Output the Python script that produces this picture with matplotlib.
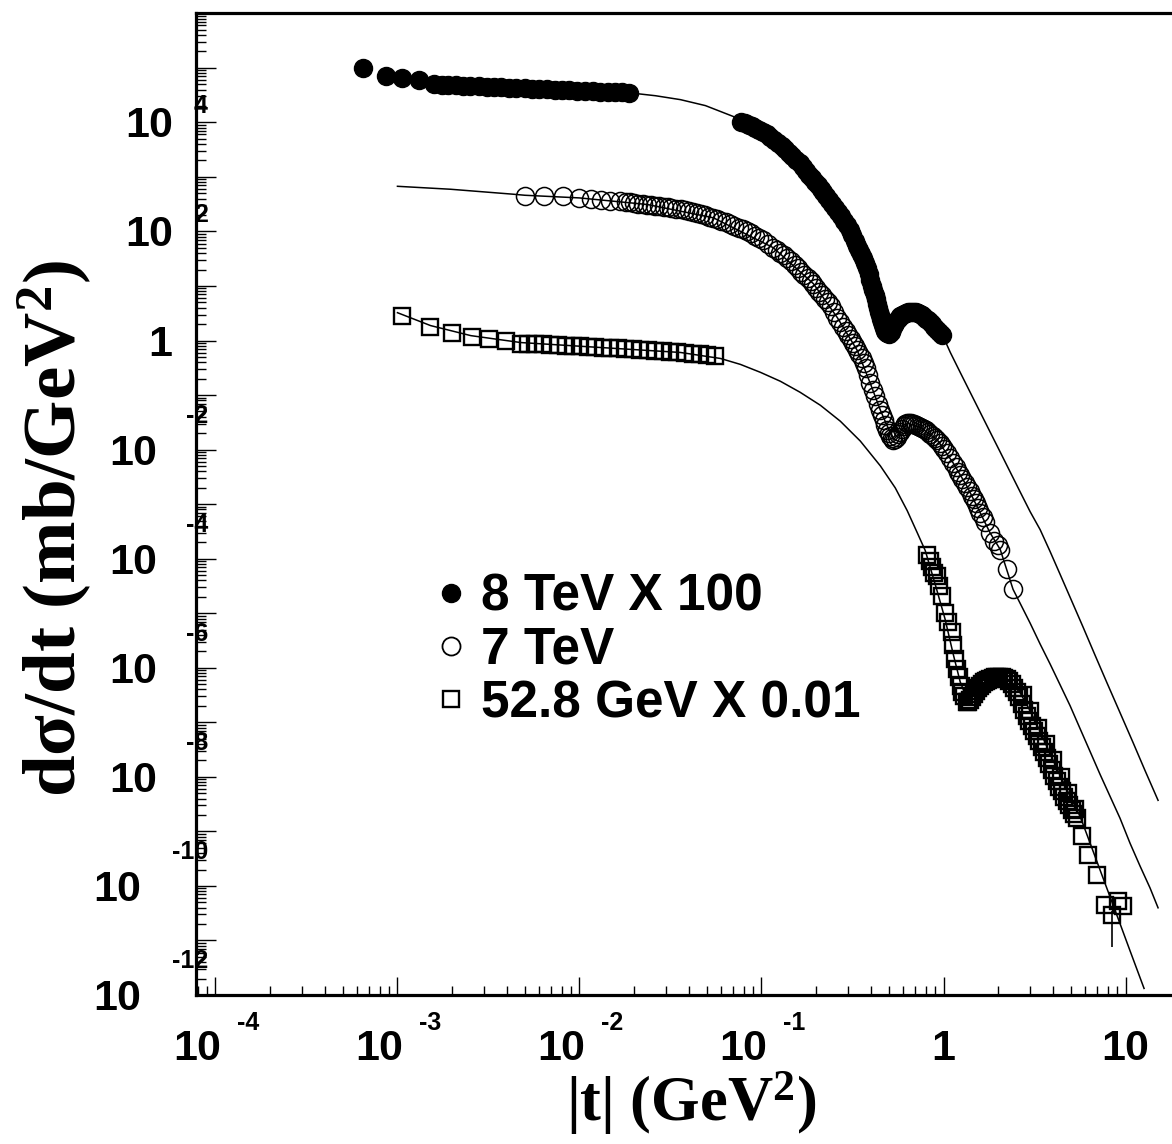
import matplotlib
matplotlib.use("Agg")
import matplotlib.pyplot as plt
from matplotlib.lines import Line2D
from matplotlib.ticker import LogLocator, NullFormatter
from matplotlib.transforms import blended_transform_factory, offset_copy

# ---- data: |t| (GeV^2), dsigma/dt (mb/GeV^2) ----
# 8 TeV x 100 (filled circles)
t8 = [6.45e-4, 8.6e-4, 1.06e-3, 1.31e-3,
      0.00158, 0.00175, 0.0019, 0.0021, 0.0023, 0.0025, 0.0028, 0.0031, 0.0034,
      0.0037, 0.0041, 0.0045, 0.0050, 0.0055, 0.0060, 0.0066, 0.0073, 0.0080,
      0.0088, 0.0097, 0.0107, 0.0118, 0.0130, 0.0143, 0.0157, 0.0172, 0.0186,
      0.0776, 0.081, 0.085, 0.089, 0.0926, 0.097, 0.102, 0.107, 0.112, 0.117,
      0.123, 0.129, 0.135, 0.141, 0.148, 0.155, 0.163, 0.169, 0.176, 0.183,
      0.190, 0.197, 0.204, 0.211, 0.219, 0.227, 0.236, 0.245, 0.254, 0.264,
      0.274, 0.285, 0.296, 0.305, 0.315, 0.325, 0.336, 0.345, 0.354, 0.363,
      0.372, 0.380, 0.389, 0.397, 0.406, 0.412, 0.419, 0.425, 0.432, 0.438,
      0.444, 0.449, 0.455, 0.461, 0.467, 0.473, 0.479, 0.485, 0.491, 0.497,
      0.504, 0.513, 0.523, 0.533, 0.543, 0.555, 0.568, 0.580, 0.593, 0.608,
      0.624, 0.640, 0.656, 0.673, 0.690, 0.708, 0.726, 0.745, 0.764, 0.783,
      0.803, 0.824, 0.845, 0.867, 0.889, 0.912, 0.936, 0.960, 0.984]
ds8 = [1.0e5, 7.1e4, 6.6e4, 6.0e4,
       5.0e4, 4.92e4, 4.86e4, 4.8e4, 4.74e4, 4.68e4, 4.6e4, 4.54e4, 4.47e4,
       4.42e4, 4.35e4, 4.3e4, 4.23e4, 4.17e4, 4.11e4, 4.06e4, 4.0e4, 3.95e4,
       3.9e4, 3.84e4, 3.77e4, 3.72e4, 3.68e4, 3.63e4, 3.59e4, 3.55e4, 3.50e4,
       1.03e4, 9.6e3, 9.1e3, 8.5e3, 8.0e3, 7.4e3, 6.7e3, 6.1e3, 5.5e3, 4.8e3,
       4.2e3, 3.7e3, 3.19e3, 2.8e3, 2.4e3, 2.05e3, 1.77e3, 1.52e3, 1.3e3, 1.1e3,
       942, 810, 700, 600, 523, 440, 375, 315, 267, 225,
       190, 158, 131, 106, 85, 68, 54, 45, 38, 32,
       26.5, 21, 16.5, 13, 10.1, 8.3, 6.9, 5.7, 4.73, 4.0,
       3.4, 2.9, 2.52, 2.2, 1.95, 1.7, 1.52, 1.43, 1.38, 1.35,
       1.34, 1.45, 1.65, 1.9, 2.13, 2.4, 2.6, 2.8, 2.98, 3.12,
       3.25, 3.33, 3.38, 3.38, 3.35, 3.3, 3.24, 3.1, 2.9, 2.7,
       2.52, 2.33, 2.15, 1.97, 1.80, 1.65, 1.5, 1.4, 1.29]

# 7 TeV (open circles)
t7 = [0.00501, 0.00638, 0.00815, 0.0100, 0.0115, 0.0131, 0.0148, 0.0168, 0.0179,
      0.019, 0.020, 0.021, 0.0223, 0.0236, 0.0248, 0.026, 0.0275, 0.029, 0.0305,
      0.032, 0.034, 0.0359, 0.038, 0.040, 0.042, 0.044, 0.0465, 0.049, 0.0517,
      0.0544, 0.057, 0.060, 0.0635, 0.067, 0.071, 0.075, 0.079, 0.0834, 0.0876,
      0.092, 0.097, 0.102, 0.109, 0.116, 0.1215, 0.127, 0.1325, 0.138, 0.145,
      0.152, 0.158, 0.165, 0.172, 0.180, 0.186, 0.193, 0.200, 0.208, 0.216,
      0.224, 0.233, 0.242, 0.251, 0.261, 0.270, 0.280, 0.290, 0.300, 0.309,
      0.318, 0.327, 0.336, 0.345, 0.355, 0.365, 0.375, 0.385, 0.396, 0.408,
      0.420, 0.435, 0.450, 0.460, 0.470, 0.480, 0.491, 0.500, 0.510, 0.520,
      0.530, 0.541, 0.553, 0.565, 0.578, 0.591, 0.605, 0.618, 0.632, 0.646,
      0.660, 0.675, 0.690, 0.705, 0.720, 0.745, 0.762, 0.780, 0.800, 0.820,
      0.845, 0.870, 0.897, 0.925, 0.952, 0.980, 1.01, 1.04, 1.085, 1.13,
      1.165, 1.20, 1.235, 1.27, 1.31, 1.35, 1.39, 1.43, 1.47, 1.51,
      1.55, 1.59, 1.645, 1.70, 1.80, 1.90, 2.00, 2.05, 2.24, 2.41]
ds7 = [456, 455, 443, 412, 395, 385, 369, 359, 351,
       344, 333, 323, 317, 312, 304, 297, 291, 285, 277,
       270, 263, 256, 246, 236, 226, 217, 208, 199, 188,
       178, 168, 158, 147, 136, 127, 118, 110, 102, 93,
       84, 77, 69.7, 59, 50.4, 45, 40.3, 36.5, 33.1, 28.5,
       24.4, 21, 18.2, 15.8, 13.8, 12.3, 11.0, 9.3, 7.84, 6.8,
       5.84, 5.0, 4.35, 3.4, 2.63, 2.2, 1.80, 1.52, 1.29, 1.08,
       0.92, 0.78, 0.657, 0.555, 0.47, 0.39, 0.32, 0.23, 0.164, 0.125,
       0.095, 0.07, 0.0528, 0.043, 0.0347, 0.028, 0.0228, 0.020, 0.0177, 0.016,
       0.0150, 0.0155, 0.017, 0.019, 0.021, 0.024, 0.027, 0.029, 0.0306, 0.0308,
       0.0306, 0.030, 0.0293, 0.0285, 0.0275, 0.0258, 0.0248, 0.0238, 0.0225, 0.021,
       0.0196, 0.0181, 0.0165, 0.0150, 0.0133, 0.0116, 0.0102, 8.85e-3, 7.1e-3, 5.69e-3,
       4.7e-3, 3.9e-3, 3.4e-3, 2.91e-3, 2.45e-3, 2.08e-3, 1.72e-3, 1.42e-3, 1.23e-3, 1.06e-3,
       8.6e-4, 6.97e-4, 5.8e-4, 4.77e-4, 3.0e-4, 2.15e-4, 1.8e-4, 1.47e-4, 6.35e-5, 2.74e-5]

# 52.8 GeV x 0.01 (open squares)
t52 = [1.065e-3, 1.51e-3, 2.0e-3, 2.58e-3, 3.19e-3, 3.93e-3,
       0.00475, 0.0052, 0.0057, 0.0063, 0.0069, 0.0076, 0.0084, 0.0092, 0.0101,
       0.0111, 0.0122, 0.0134, 0.0147, 0.0162, 0.0178, 0.0196, 0.0215, 0.0237,
       0.026, 0.0286, 0.0314, 0.0345, 0.038, 0.0418, 0.046, 0.0505, 0.0558,
       0.816, 0.84, 0.863, 0.89, 0.920, 0.95, 0.980, 1.02, 1.06, 1.11,
       1.13, 1.16, 1.18, 1.21, 1.24, 1.27, 1.30, 1.34, 1.37, 1.40,
       1.44, 1.47, 1.50, 1.55, 1.59, 1.63, 1.67, 1.72, 1.76, 1.81,
       1.86, 1.91, 1.96, 2.02, 2.09, 2.16, 2.23, 2.30, 2.38, 2.45,
       2.53, 2.61, 2.70, 2.78, 2.87, 2.96, 3.06, 3.16, 3.26, 3.36,
       3.47, 3.58, 3.70, 3.82, 3.94, 4.06, 4.19, 4.33, 4.47, 4.61,
       4.76, 4.91, 5.07, 5.23, 5.40, 5.75, 6.23, 6.95, 7.72, 8.40,
       9.10, 9.69,
       2.75, 3.0, 3.3, 3.65, 4.0, 4.4, 4.85, 5.3]
ds52 = [2.78, 1.80, 1.36, 1.18, 1.07, 0.971,
        0.88, 0.87, 0.86, 0.85, 0.83, 0.82, 0.80, 0.79, 0.78,
        0.77, 0.76, 0.745, 0.73, 0.715, 0.70, 0.685, 0.67, 0.66,
        0.65, 0.635, 0.625, 0.61, 0.595, 0.575, 0.555, 0.535, 0.51,
        1.19e-4, 9.0e-5, 6.91e-5, 5.5e-5, 4.73e-5, 3.2e-5, 2.04e-5, 1.0e-5, 7.0e-6, 4.5e-6,
        2.6e-6, 1.45e-6, 9.5e-7, 6.8e-7, 4.6e-7, 3.6e-7, 3.0e-7, 2.38e-7, 2.4e-7, 2.6e-7,
        2.93e-7, 3.3e-7, 3.8e-7, 4.3e-7, 4.66e-7, 5.1e-7, 5.4e-7, 5.7e-7, 5.99e-7, 6.3e-7,
        6.5e-7, 6.7e-7, 6.8e-7, 6.8e-7, 6.7e-7, 6.5e-7, 6.25e-7, 5.7e-7, 5.0e-7, 4.3e-7,
        3.6e-7, 2.9e-7, 2.2e-7, 1.7e-7, 1.32e-7, 1.05e-7, 8.7e-8, 7.0e-8, 5.69e-8, 4.5e-8,
        3.5e-8, 2.8e-8, 2.17e-8, 1.7e-8, 1.35e-8, 1.05e-8, 8.24e-9, 6.6e-9, 5.4e-9, 4.3e-9,
        3.56e-9, 3.0e-9, 2.5e-9, 2.1e-9, 1.74e-9, 8.2e-10, 3.68e-10, 1.59e-10, 4.5e-11, 2.96e-11,
        5.3e-11, 4.3e-11,
        3.2e-7, 1.6e-7, 8.0e-8, 4.0e-8, 2.0e-8, 1.0e-8, 5.0e-9, 2.6e-9]
# one visible error bar
t52_err = [8.40]
ds52_err = [2.96e-11]
ds52_err_lo = [2.2e-11]
ds52_err_hi = [0.5e-11]

# model curves
c8_t = [8.63e-4, 1.58e-3, 5.39e-3, 0.0186, 0.02617, 0.0359, 0.0492, 0.0701, 0.0776,
        0.1, 0.127, 0.163, 0.190, 0.219, 0.254, 0.296, 0.336, 0.372, 0.406, 0.432,
        0.455, 0.479, 0.504, 0.543, 0.593, 0.656, 0.726, 0.803, 0.889, 0.984,
        1.09, 1.235, 1.401, 1.590, 1.804, 2.048, 2.323, 2.636, 2.992, 3.395,
        3.852, 4.372, 4.960, 5.846, 6.795, 7.91, 9.328, 11.0, 12.79, 15.09]
c8_ds = [6.85e4, 5.0e4, 4.14e4, 3.5e4, 3.08e4, 2.61e4, 2.03e4, 1.28e4, 1.03e4,
         7.4e3, 3.9e3, 1.77e3, 942, 523, 267, 131, 54, 26.5, 10.1, 4.73,
         2.52, 1.52, 1.34, 2.13, 2.98, 3.38, 3.24, 2.52, 1.80, 1.29,
         0.604, 0.2606, 0.1125, 0.0485, 0.02095, 9.04e-3, 3.90e-3, 1.68e-3, 7.27e-4, 3.41e-4,
         1.35e-4, 5.15e-5, 1.96e-5, 5.55e-6, 1.71e-6, 5.28e-7, 1.50e-7, 4.25e-8, 1.31e-8, 3.71e-9]

c7_t = [1.0e-3, 1.96e-3, 4.35e-3, 5.01e-3, 0.01, 0.0236, 0.0544, 0.116, 0.193,
        0.261, 0.336, 0.396, 0.450, 0.530, 0.632, 0.745, 0.925, 1.13, 1.35,
        1.59, 1.80, 2.05, 2.41, 2.636, 2.992, 3.395, 3.852, 4.372, 4.960,
        5.628, 6.387, 7.245, 8.222, 9.328, 10.58, 12.01, 13.63, 15.09]
c7_ds = [673, 594, 481, 461, 412, 312, 178, 50.4, 11.0,
         2.63, 0.657, 0.164, 0.0528, 0.0150, 0.0306, 0.0258, 0.0150, 5.69e-3, 2.08e-3,
         6.97e-4, 3.0e-4, 1.47e-4, 2.74e-5, 1.52e-5, 6.57e-6, 2.72e-6, 1.17e-6, 4.85e-7, 2.01e-7,
         7.64e-8, 2.91e-8, 1.11e-8, 4.39e-9, 1.74e-9, 6.09e-10, 2.32e-10, 9.2e-11, 3.97e-11]

c52_t = [1.0e-3, 1.52e-3, 2.53e-3, 4.75e-3, 0.01306, 0.0359, 0.0595, 0.0766,
         0.0987, 0.127, 0.163, 0.2105, 0.271, 0.349, 0.450, 0.543, 0.632, 0.717,
         0.7936, 0.90, 1.02, 1.13, 1.235, 1.33, 1.455, 1.590, 1.804, 2.048,
         2.323, 2.636, 2.992, 3.395, 3.852, 4.372, 4.960, 5.628, 6.387, 7.245,
         8.222, 9.328, 10.58, 12.64]
c52_ds = [3.24, 1.88, 1.23, 0.919, 0.745, 0.604, 0.469, 0.365,
          0.261, 0.179, 0.1125, 0.0651, 0.0332, 0.01435, 5.02e-3, 1.99e-3, 7.58e-4, 3.0e-4,
          1.41e-4, 3.4e-5, 7.8e-6, 1.79e-6, 5.5e-7, 3.0e-7, 3.2e-7, 4.47e-7, 5.99e-7, 6.51e-7,
          5.51e-7, 3.47e-7, 1.63e-7, 6.74e-8, 2.67e-8, 1.06e-8, 4.39e-9, 1.89e-9, 6.09e-10, 1.96e-10,
          6.3e-11, 2.03e-11, 6.5e-12, 1.32e-12]

legend_labels = ["8 TeV X 100", "7 TeV", "52.8 GeV X 0.01"]
xtick_exp = [-4, -3, -2, -1, 0, 1]
ytick_exp = [4, 2, 0, -2, -4, -6, -8, -10, -12]

plt.rcParams["mathtext.fontset"] = "custom"
plt.rcParams["mathtext.rm"] = "Liberation Serif:bold"
plt.rcParams["mathtext.bf"] = "Liberation Serif:bold"
plt.rcParams["mathtext.it"] = "Liberation Serif:bold:italic"

sans = dict(family="Liberation Sans", weight="bold")
serif = dict(family="Liberation Serif", weight="bold")

fig = plt.figure(figsize=(11.72, 11.44), dpi=100)
ax = fig.add_axes([196 / 1172, 149 / 1144, 976 / 1172, 981.7 / 1144])
ax.set_xscale("log")
ax.set_yscale("log")
ax.set_xlim(7.82e-5, 18.0)
ax.set_ylim(1e-12, 1e6)

# curves
for ct, cd in [(c8_t, c8_ds), (c7_t, c7_ds), (c52_t, c52_ds)]:
    ax.plot(ct, cd, color="black", lw=1.1, zorder=2)

# data
ax.plot(t8, ds8, "o", color="black", ms=13, zorder=3)
ax.plot(t7, ds7, "o", mfc="none", mec="black", mew=1.1, ms=13, zorder=3)
ax.plot(t52, ds52, "s", mfc="none", mec="black", mew=1.7, ms=12, zorder=3)
ax.errorbar(t52_err, ds52_err, yerr=[ds52_err_lo, ds52_err_hi], fmt="none",
            ecolor="black", elinewidth=1.2, zorder=3)

# legend
handles = [Line2D([], [], ls="none", marker="o", color="black", ms=13),
           Line2D([], [], ls="none", marker="o", mfc="none", mec="black", mew=1.3, ms=13),
           Line2D([], [], ls="none", marker="s", mfc="none", mec="black", mew=1.7, ms=12)]
ax.legend(handles, legend_labels, loc="upper left", bbox_to_anchor=(0.245, 0.43),
          frameon=False, prop=dict(sans, size=37), handlelength=0.6,
          handletextpad=0.3, labelspacing=0.08, borderpad=0, borderaxespad=0)

# frame and ticks
for s in ["left", "bottom", "top"]:
    ax.spines[s].set_linewidth(2.3)
ax.spines["right"].set_visible(False)
ax.xaxis.set_major_locator(LogLocator(base=10, numticks=30))
ax.xaxis.set_minor_locator(LogLocator(base=10, subs=range(2, 10), numticks=30))
ax.yaxis.set_major_locator(LogLocator(base=10, numticks=30))
ax.yaxis.set_minor_locator(LogLocator(base=10, subs=range(2, 10), numticks=30))
ax.xaxis.set_minor_formatter(NullFormatter())
ax.yaxis.set_minor_formatter(NullFormatter())
ax.tick_params(which="both", direction="in", top=False, right=False,
               labelbottom=False, labelleft=False, width=1.0)
ax.tick_params(axis="x", which="major", length=13)
ax.tick_params(axis="x", which="minor", length=6.5)
ax.tick_params(axis="y", which="major", length=14.4)
ax.tick_params(axis="y", which="minor", length=7.2)

# ROOT-style tick labels: "10" plus a raised exponent
ytr = blended_transform_factory(ax.transAxes, ax.transData)
for e in ytick_exp:
    if e == 0:
        ax.text(0, 1.0, "1", transform=offset_copy(ytr, fig, x=-24, y=-15, units="dots"),
                ha="right", va="baseline", size=31, **sans)
        continue
    s = str(e)
    ax.text(0, 10.0 ** e, "10",
            transform=offset_copy(ytr, fig, x=-23 - 16 * (len(s) - 1), y=-15, units="dots"),
            ha="right", va="baseline", size=31, **sans)
    ax.text(0, 10.0 ** e, s,
            transform=offset_copy(ytr, fig, x=12, y=(17 if e > 0 else 35) - 8, units="dots"),
            ha="right", va="baseline", size=18, **sans)

xtr = blended_transform_factory(ax.transData, ax.transAxes)
for e in xtick_exp:
    if e >= 0:
        ax.text(10.0 ** e, 0, str(10 ** e),
                transform=offset_copy(xtr, fig, x=0, y=-65, units="dots"),
                ha="center", va="baseline", size=31, **sans)
        continue
    ax.text(10.0 ** e, 0, "10", transform=offset_copy(xtr, fig, x=-18, y=-65, units="dots"),
            ha="center", va="baseline", size=31, **sans)
    ax.text(10.0 ** e, 0, str(e), transform=offset_copy(xtr, fig, x=22, y=-35, units="dots"),
            ha="left", va="baseline", size=18, **sans)

ax.set_xlabel("|t| (GeV$^{2}$)", size=45, va="center", **serif)
ax.xaxis.set_label_coords(0.507, -0.110)
ax.set_ylabel("d\u03c3/dt (mb/GeV$^{2}$)", size=54, va="center", **serif)
ax.yaxis.set_label_coords(-0.1445, 0.4747)

fig.savefig("out.png", dpi=100)
